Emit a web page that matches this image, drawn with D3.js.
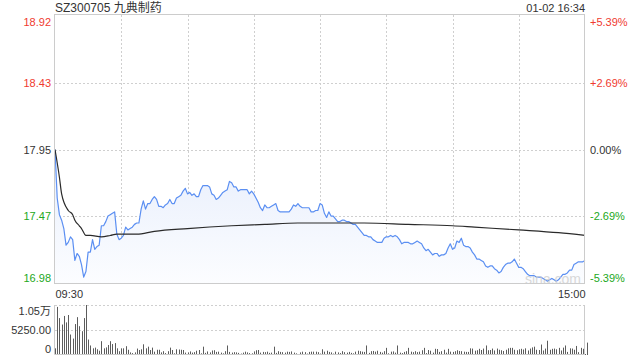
<!DOCTYPE html>
<html>
<head>
<meta charset="utf-8">
<script src="https://cdn.jsdelivr.net/npm/d3@7"></script>
<style>
	body { margin:0; background:#fff; }
	#container { width:640px; height:360px; }
	text { font-family: "Liberation Sans", Arial, "Noto Sans CJK SC", sans-serif; }
</style>
</head>
<body>
<div id="container"></div>
<script>

//STOCK INFO
var title = "SZ300705 九典制药";
var stamp = "01-02 16:34";
var preClose = 17.95;

//AXIS TICKS
var priceTicks = [18.92, 18.43, 17.95, 17.47, 16.98];
var pctTicks = ["+5.39%", "+2.69%", "0.00%", "-2.69%", "-5.39%"];
var gridMinutes = [30, 60, 90, 120, 150, 180, 210];
var timeMinutes = [0, 240];
var timeLabels = ["09:30", "15:00"];
var volTicks = [10500, 5250, 0];
var volTickLabels = ["1.05万", "5250.00", "0"];

//PRICE PER MINUTE (0 = 09:30, 120 = 11:30/13:00, 240 = 15:00)
var prices = [
	17.95,17.60,17.48,17.44,17.38,17.26,17.28,17.32,17.30,17.15,
	17.20,17.18,17.12,17.03,17.07,17.21,17.21,17.30,17.23,17.25,
	17.26,17.40,17.40,17.43,17.47,17.48,17.49,17.50,17.34,17.30,
	17.31,17.33,17.39,17.37,17.38,17.39,17.41,17.42,17.42,17.52,
	17.58,17.52,17.56,17.56,17.59,17.61,17.59,17.54,17.54,17.53,
	17.55,17.56,17.59,17.56,17.56,17.60,17.61,17.62,17.65,17.67,
	17.63,17.64,17.62,17.63,17.61,17.61,17.66,17.69,17.69,17.69,
	17.68,17.63,17.62,17.59,17.60,17.62,17.64,17.65,17.66,17.72,
	17.71,17.68,17.68,17.65,17.66,17.66,17.66,17.66,17.63,17.65,
	17.63,17.60,17.57,17.53,17.51,17.55,17.53,17.53,17.54,17.55,
	17.56,17.51,17.50,17.50,17.50,17.50,17.50,17.52,17.55,17.54,
	17.56,17.54,17.53,17.53,17.53,17.53,17.50,17.50,17.51,17.51,
	17.56,17.55,17.49,17.46,17.50,17.47,17.47,17.45,17.43,17.43,
	17.44,17.44,17.43,17.43,17.42,17.41,17.41,17.39,17.37,17.35,
	17.33,17.33,17.32,17.32,17.30,17.29,17.28,17.28,17.28,17.31,
	17.32,17.32,17.33,17.32,17.33,17.32,17.30,17.27,17.28,17.28,
	17.28,17.27,17.27,17.28,17.29,17.28,17.27,17.24,17.22,17.23,
	17.21,17.19,17.20,17.20,17.18,17.19,17.19,17.20,17.24,17.27,
	17.23,17.24,17.29,17.28,17.31,17.26,17.25,17.25,17.24,17.21,
	17.19,17.16,17.16,17.15,17.14,17.11,17.10,17.11,17.11,17.09,
	17.08,17.06,17.07,17.10,17.12,17.13,17.13,17.14,17.16,17.13,
	17.10,17.10,17.09,17.07,17.05,17.04,17.04,17.04,17.03,17.03,
	17.03,17.02,17.01,17.00,17.01,17.02,17.01,17.00,17.01,17.03,
	17.05,17.05,17.06,17.08,17.08,17.12,17.13,17.14,17.14,17.14,
	17.15
];

//AVERAGE PRICE LINE (read at some minutes)
var avgMinutes = [0, 2, 3, 6, 8, 9, 11, 12, 14, 16, 21, 25, 28, 37, 45, 60, 80, 95, 110, 125, 140, 160, 180, 190, 210, 228, 240];
var avgPrices = [17.95, 17.75, 17.63, 17.51, 17.48, 17.44, 17.40, 17.38, 17.33, 17.33, 17.32, 17.33, 17.34, 17.34, 17.36, 17.38, 17.40, 17.41, 17.42, 17.42, 17.42, 17.41, 17.40, 17.39, 17.37, 17.35, 17.33];

//VOLUME PER MINUTE
var volumes = [].concat(
	[1400,10100,7750,6400,8200,6850,8400,4300,3450,6500,7950,6050,5000,7750,10500,3250,2000],
	[1400,1550,1200,900,2900,1400,1600,2100,2900,2300,2500,1400,800,1400,1400,1850,1100,550,400,550,1350,1050,1200,2250],
	[1400,1750,1050,1550,700,1100,1100,550,800,400,800,1550,1050,350,1200,1150,1100,1050,500,550],
	[750,500,600,900,1050,350,1750,450,750,550,950,1000,650,700,500,350,800,2000,650,500],
	[600,550,450,300,500,700,550,400,350,750,1000,1050,500,650,600,700,450,500,1750,450],
	[800,650,600,500,700,650,750,500,350,200,550,700,600,300,650,700,700,700,600,300],
	[1200,700,900,650,550,300,700,550,400,800,600,500,650,450,350,700,900,800,700,650],
	[2000,450,800,850,700,900,650,500,800,1500,350,700,750,500,2000,500,400,650,800,1500],
	[700,600,800,600,700,1000,1500,400,1050,900,500,1300,1250,650,800,1100,500,1300,700,650],
	[800,1000,850,800,700,650,650,1400,1350,900,1000,1300,1050,1350,2000,1000,1050,1350,950,1350],
	[1100,1000,850,1100,1400,1500,1500,1100,1000,1200,1300,1150,1400,950,1350,1600,1750,1100,1050,2200],
	[950,1350,3000,1100,1300,1350,1200,1500,950,1550,2000,650,1400,1350,1100,1900,600,1500,1300,200,2600]
);

var RED = "#f03a2f";
var GREEN = "#22a822";
var TEXT = "#333";

function tickColor(v) {
	if (v > preClose + 0.001) return RED;
	if (v < preClose - 0.001) return GREEN;
	return TEXT;
}

function render() {
	var width = 640, height = 360;
	var left = 55, right = 585;
	var pTop = 15, pBottom = 284;
	var vTop = 305, vBottom = 355;

	var svg = d3.select("#container")
		.append("svg")
		.attr("width", width)
		.attr("height", height);

	var x = d3.scaleLinear().domain([0, 240]).range([left, right]);
	var y = d3.scaleLinear().domain([priceTicks[4], priceTicks[0]]).range([pBottom, pTop]);
	var yv = d3.scaleLinear().domain([0, volTicks[0]]).range([vBottom, vTop]);

	//GRADIENT FOR AREA
	var grad = svg.append("defs").append("linearGradient")
		.attr("id", "fillGrad")
		.attr("x1", 0).attr("y1", 0).attr("x2", 0).attr("y2", 1);
	grad.append("stop").attr("offset", "0%").attr("stop-color", "#e7eefc");
	grad.append("stop").attr("offset", "100%").attr("stop-color", "#fcfdff");

	//GRID
	var grid = svg.append("g");
	grid.selectAll(".hgrid")
		.data(priceTicks.slice(1, 4))
		.enter()
		.append("line")
		.attr("x1", left).attr("x2", right)
		.attr("y1", d => Math.round(y(d)) + 0.5)
		.attr("y2", d => Math.round(y(d)) + 0.5)
		.attr("stroke", "#cfcfcf")
		.attr("stroke-dasharray", "2,2");
	grid.selectAll(".vgrid")
		.data(gridMinutes)
		.enter()
		.append("line")
		.attr("x1", d => Math.round(x(d)) + 0.5)
		.attr("x2", d => Math.round(x(d)) + 0.5)
		.attr("y1", pTop).attr("y2", pBottom)
		.attr("stroke", "#cfcfcf")
		.attr("stroke-dasharray", "2,2");

	//AREA + LINES
	var pts = prices.map((p, i) => [i, p]);
	var area = d3.area()
		.x(d => x(d[0]))
		.y0(pBottom)
		.y1(d => y(d[1]));
	svg.append("path")
		.datum(pts)
		.attr("d", area)
		.attr("fill", "url(#fillGrad)");

	var line = d3.line()
		.x(d => x(d[0]))
		.y(d => y(d[1]));
	svg.append("path")
		.datum(pts)
		.attr("d", line)
		.attr("fill", "none")
		.attr("stroke", "#5b8ff2")
		.attr("stroke-width", 1.2)
		.attr("stroke-linejoin", "round");

	var avgPts = avgMinutes.map((m, i) => [m, avgPrices[i]]);
	svg.append("path")
		.datum(avgPts)
		.attr("d", line.curve(d3.curveMonotoneX))
		.attr("fill", "none")
		.attr("stroke", "#2a2a2a")
		.attr("stroke-width", 1.2);

	//WATERMARK
	svg.append("text")
		.attr("x", 553).attr("y", 284)
		.attr("text-anchor", "middle")
		.attr("font-size", 14)
		.attr("fill", "#cccccc")
		.attr("opacity", 0.75)
		.text("sina.com");

	//FRAME
	svg.append("rect")
		.attr("x", left - 0.5).attr("y", pTop - 0.5)
		.attr("width", right - left).attr("height", pBottom - pTop)
		.attr("fill", "none")
		.attr("stroke", "#cccccc");

	//PRICE AXES
	var axL = svg.append("g")
		.attr("transform", "translate(" + (left - 1) + ",0)")
		.call(d3.axisLeft(y).tickValues(priceTicks).tickSize(0).tickPadding(3).tickFormat(d3.format(".2f")));
	var axR = svg.append("g")
		.attr("transform", "translate(" + right + ",0)")
		.call(d3.axisRight(y).tickValues(priceTicks).tickSize(0).tickPadding(5).tickFormat((d, i) => pctTicks[i]));
	[axL, axR].forEach(ax => {
		ax.select(".domain").remove();
		ax.selectAll("text")
			.attr("font-size", 11)
			.attr("font-family", "'Liberation Sans', Arial, sans-serif")
			.attr("fill", d => tickColor(d))
			.attr("dy", (d, i) => i == 0 ? "0.95em" : (i == priceTicks.length - 1 ? "-0.25em" : "0.32em"));
	});

	//TIME AXIS
	var axT = svg.append("g")
		.attr("transform", "translate(0," + pBottom + ")")
		.call(d3.axisBottom(x).tickValues(timeMinutes).tickSize(0).tickPadding(6).tickFormat((d, i) => timeLabels[i]));
	axT.select(".domain").remove();
	axT.selectAll("text")
		.attr("font-size", 11)
		.attr("font-family", "'Liberation Sans', Arial, sans-serif")
		.attr("fill", TEXT)
		.attr("text-anchor", (d, i) => i == 0 ? "start" : "end");

	//VOLUME
	svg.append("g").selectAll(".vg")
		.data(volTicks.slice(0, 2))
		.enter()
		.append("line")
		.attr("x1", left).attr("x2", right)
		.attr("y1", d => Math.round(yv(d)) + 0.5)
		.attr("y2", d => Math.round(yv(d)) + 0.5)
		.attr("stroke", "#cfcfcf")
		.attr("stroke-dasharray", "2,2");

	svg.append("g").selectAll(".bar")
		.data(volumes)
		.enter()
		.append("rect")
		.attr("x", (d, i) => Math.round(x(i)))
		.attr("width", 1)
		.attr("y", d => yv(d))
		.attr("height", d => vBottom - yv(d))
		.attr("fill", "#5c5c5c");

	svg.append("path")
		.attr("d", "M" + (left - 0.5) + "," + vTop + "V" + (vBottom - 0.5) + "H" + (right - 0.5) + "V" + vTop)
		.attr("fill", "none")
		.attr("stroke", "#cccccc");

	var axV = svg.append("g")
		.attr("transform", "translate(" + (left - 1) + ",0)")
		.call(d3.axisLeft(yv).tickValues(volTicks).tickSize(0).tickPadding(3).tickFormat((d, i) => volTickLabels[i]));
	axV.select(".domain").remove();
	axV.selectAll("text")
		.attr("font-size", 11)
		.attr("font-family", "'Liberation Sans', Arial, 'Noto Sans CJK SC', sans-serif")
		.attr("fill", TEXT)
		.attr("dy", (d, i) => i == 0 ? "0.85em" : (i == volTicks.length - 1 ? "-0.2em" : "0.32em"));

	//HEADER
	svg.append("text")
		.attr("x", left).attr("y", 12)
		.attr("font-size", 12)
		.attr("fill", TEXT)
		.text(title);
	svg.append("text")
		.attr("x", right).attr("y", 12)
		.attr("text-anchor", "end")
		.attr("font-size", 11)
		.attr("fill", TEXT)
		.text(stamp);
}

render();
</script>
</body>
</html>
